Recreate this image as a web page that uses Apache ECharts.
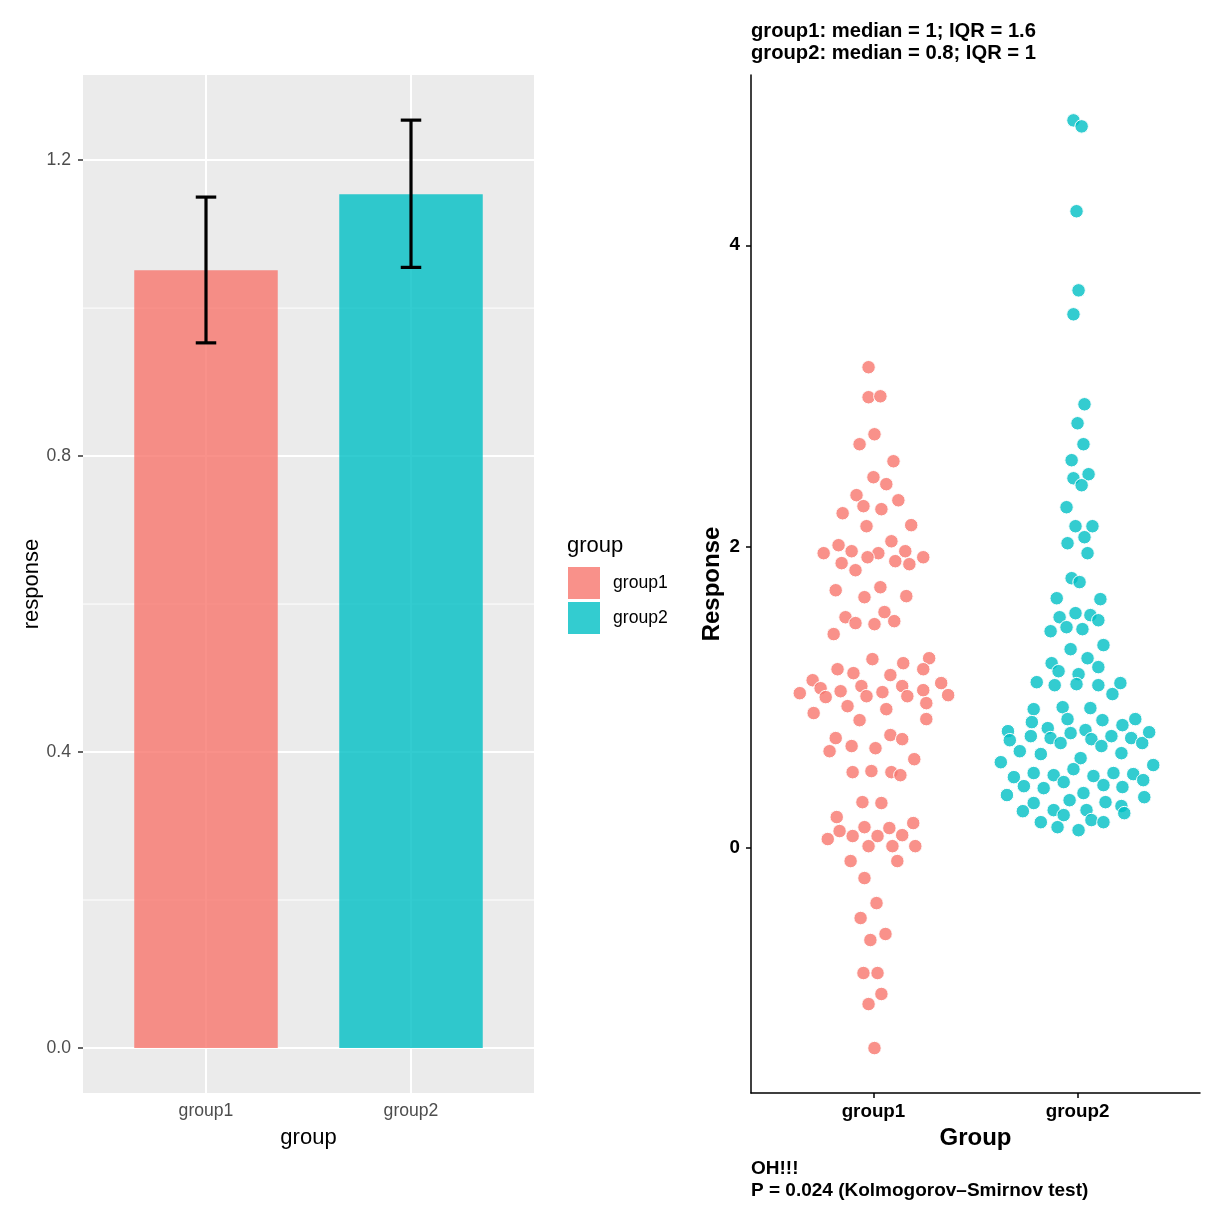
<!DOCTYPE html>
<html><head><meta charset="utf-8">
<script src="https://cdn.jsdelivr.net/npm/echarts@6/dist/echarts.min.js"></script>
<style>html,body{margin:0;padding:0;background:#fff}#c{width:1224px;height:1224px}</style>
</head><body><div id="c"></div>
<script>
// ---------- data ----------
const categories = ['group1', 'group2'];
const barMeans = [1.051, 1.154];
const errLower = [0.953, 1.055];
const errUpper = [1.150, 1.254];
const yTicksLeft = [0, 0.4, 0.8, 1.2];
const yMinorLeft = [0.2, 0.6, 1.0];
const yTicksRight = [0, 2, 4];
const titleLines = ['group1: median = 1; IQR = 1.6', 'group2: median = 0.8; IQR = 1'];
const captionLines = ['OH!!!', 'P = 0.024 (Kolmogorov\u2013Smirnov test)'];

const g1Response = [3.191,2.992,2.998,2.746,2.680,2.567,2.461,2.415,2.342,2.308,2.269,2.249,2.222,2.136,2.143,2.036,2.010,1.970,1.970,1.957,1.957,1.930,1.930,1.891,1.904,1.884,1.844,1.711,1.731,1.665,1.672,1.566,1.532,1.493,1.486,1.506,1.420,1.254,1.260,1.227,1.187,1.187,1.161,1.148,1.114,1.075,1.061,1.095,1.075,1.028,1.041,1.002,1.008,1.035,1.008,1.048,1.015,0.962,0.942,0.922,0.896,0.856,0.849,0.730,0.750,0.723,0.677,0.643,0.663,0.590,0.504,0.511,0.504,0.484,0.305,0.299,0.206,0.166,0.113,0.139,0.133,0.060,0.080,0.080,0.086,0.013,0.013,0.013,-0.086,-0.086,-0.199,-0.365,-0.464,-0.570,-0.610,-0.829,-0.829,-0.968,-1.035,-1.327];
const g1Offset = [-0.024,-0.024,0.034,0.005,-0.068,0.098,0,0.063,-0.083,0.122,-0.049,0.039,-0.151,-0.034,0.185,0.088,-0.171,-0.107,0.156,-0.244,0.024,-0.029,0.244,-0.156,0.107,0.176,-0.088,-0.185,0.034,-0.044,0.161,0.054,-0.137,-0.088,0.005,0.102,-0.195,-0.005,0.273,0.146,0.244,-0.176,-0.098,0.083,-0.298,-0.059,-0.259,0.332,0.141,-0.361,-0.161,-0.234,-0.034,0.044,0.166,0.244,0.366,0.259,-0.127,0.063,-0.293,0.259,-0.068,-0.185,0.083,0.141,-0.107,-0.215,0.010,0.200,-0.102,-0.010,0.088,0.132,-0.054,0.039,-0.180,0.195,-0.166,-0.044,0.078,-0.224,-0.102,0.020,0.141,-0.024,0.093,0.205,-0.112,0.117,-0.044,0.015,-0.063,0.059,-0.015,-0.049,0.020,0.039,-0.024,0.005];
const g2Response = [4.829,4.789,4.226,3.701,3.542,2.945,2.819,2.680,2.574,2.454,2.481,2.408,2.262,2.136,2.136,2.063,2.023,1.957,1.791,1.765,1.658,1.652,1.532,1.559,1.546,1.512,1.439,1.466,1.453,1.320,1.347,1.227,1.260,1.174,1.154,1.201,1.101,1.081,1.088,1.081,1.095,1.022,0.922,0.935,0.929,0.836,0.856,0.849,0.816,0.856,0.776,0.716,0.743,0.796,0.730,0.697,0.763,0.783,0.723,0.677,0.743,0.730,0.697,0.769,0.643,0.624,0.597,0.630,0.570,0.551,0.471,0.498,0.484,0.524,0.438,0.478,0.498,0.491,0.451,0.411,0.398,0.418,0.405,0.352,0.365,0.338,0.299,0.318,0.305,0.279,0.232,0.245,0.252,0.219,0.252,0.186,0.172,0.172,0.139,0.119];
const g2Offset = [-0.020,0.020,-0.005,0.005,-0.020,0.034,0,0.029,-0.029,-0.020,0.054,0.020,-0.054,-0.010,0.073,0.034,-0.049,0.049,-0.029,0.010,-0.102,0.112,-0.088,-0.010,0.063,0.102,-0.132,-0.054,0.024,-0.034,0.127,-0.127,0.049,-0.093,0.005,0.102,-0.200,-0.112,-0.005,0.102,0.210,0.171,-0.215,-0.073,0.063,-0.224,-0.049,0.122,0.220,0.283,-0.341,-0.332,-0.229,-0.146,-0.132,-0.083,-0.034,0.039,0.068,0.117,0.166,0.263,0.317,0.351,-0.283,-0.180,0.015,0.215,-0.376,0.371,-0.312,-0.215,-0.117,-0.020,-0.068,0.078,0.176,0.273,0.322,-0.263,-0.166,0.127,0.220,-0.346,0.029,0.327,-0.215,-0.039,0.137,0.215,0.229,-0.268,-0.117,-0.068,0.044,0.068,0.127,-0.180,-0.098,0.005];

// ---------- styling ----------
const FONT = '"Liberation Sans", Arial, Helvetica, sans-serif';
const COLORS_A = ['rgba(248,118,109,0.8)', 'rgba(0,191,196,0.8)'];
const BAR_WIDTH = 0.7, CAP_WIDTH = 0.1;
const X_MIN = 0.4, X_MAX = 2.6;
const catPos = categories.map((c, i) => i + 1);
const catFormatter = v => categories[Math.round(v) - 1] || '';

function barRender(params, api) {
  const x = api.value(0), y = api.value(1), lo = api.value(2), hi = api.value(3);
  const p0 = api.coord([x - BAR_WIDTH / 2, y]);
  const p1 = api.coord([x + BAR_WIDTH / 2, 0]);
  const top = api.coord([x, hi]), bot = api.coord([x, lo]);
  const cl = api.coord([x - CAP_WIDTH / 2, hi])[0], cr = api.coord([x + CAP_WIDTH / 2, hi])[0];
  const ls = { stroke: '#000', lineWidth: 3.2 };
  return { type: 'group', children: [
    { type: 'rect', shape: { x: p0[0], y: p0[1], width: p1[0] - p0[0], height: p1[1] - p0[1] },
      style: { fill: COLORS_A[params.seriesIndex - 1] } },
    { type: 'line', shape: { x1: top[0], y1: top[1], x2: bot[0], y2: bot[1] }, style: ls },
    { type: 'line', shape: { x1: cl, y1: top[1], x2: cr, y2: top[1] }, style: ls },
    { type: 'line', shape: { x1: cl, y1: bot[1], x2: cr, y2: bot[1] }, style: ls }
  ]};
}

// grid lines for left panel (kind 0 = major horizontal, 1 = minor horizontal, 2 = vertical)
const gridLineData = []
  .concat(yTicksLeft.map(v => [0, v]))
  .concat(yMinorLeft.map(v => [1, v]))
  .concat(catPos.map(v => [2, v]));
function gridRender(params, api) {
  const kind = api.value(0), v = api.value(1);
  let a, b;
  if (kind === 2) { a = api.coord([v, -0.0608]); b = api.coord([v, 1.315]); }
  else { a = api.coord([X_MIN, v]); b = api.coord([X_MAX, v]); }
  return { type: 'line', shape: { x1: a[0], y1: a[1], x2: b[0], y2: b[1] },
    style: { stroke: '#FFFFFF', lineWidth: kind === 1 ? 1 : 2 } };
}

const chart = echarts.init(document.getElementById('c'), null, { renderer: 'canvas' });
chart.setOption({
  animation: false,
  backgroundColor: '#FFFFFF',
  textStyle: { fontFamily: FONT },
  title: [
    { text: titleLines.join('\n'), left: 751, top: 20, padding: 0,
      textStyle: { fontFamily: FONT, fontSize: 20.2, fontWeight: 'bold', color: '#000', lineHeight: 22 } },
    { text: captionLines.join('\n'), left: 751, top: 1158, padding: 0,
      textStyle: { fontFamily: FONT, fontSize: 19, fontWeight: 'bold', color: '#000', lineHeight: 22 } },
    { text: 'group', left: 567, top: 535, padding: 0,
      textStyle: { fontFamily: FONT, fontSize: 22, fontWeight: 'normal', color: '#000', lineHeight: 22 } }
  ],
  legend: {
    orient: 'vertical', left: 568, top: 567, padding: 0,
    itemWidth: 32, itemHeight: 32, itemGap: 3, selectedMode: false,
    data: categories.map((c, i) => ({ name: c, icon: 'rect', itemStyle: { color: COLORS_A[i], borderWidth: 0 } })),
    textStyle: { fontFamily: FONT, fontSize: 17.6, color: '#000', padding: [0, 0, 0, 8] }
  },
  grid: [
    { left: 83, top: 75, width: 451, height: 1018, show: true, backgroundColor: '#EBEBEB', borderWidth: 0 },
    { left: 751, top: 75, width: 449, height: 1018, show: false }
  ],
  xAxis: [
    { gridIndex: 0, type: 'value', min: X_MIN, max: X_MAX,
      name: 'group', nameLocation: 'middle', nameGap: 34,
      nameTextStyle: { fontFamily: FONT, fontSize: 22, color: '#000' },
      axisLine: { show: false }, splitLine: { show: false },
      axisTick: { show: true, customValues: catPos, length: 5, lineStyle: { color: '#333333', width: 1.5 } },
      axisLabel: { customValues: catPos, formatter: catFormatter, margin: 9,
        fontFamily: FONT, fontSize: 17.6, color: '#4D4D4D' } },
    { gridIndex: 1, type: 'value', min: X_MIN, max: X_MAX,
      name: 'Group', nameLocation: 'middle', nameGap: 33,
      nameTextStyle: { fontFamily: FONT, fontSize: 24, fontWeight: 'bold', color: '#000' },
      axisLine: { show: true, onZero: false, lineStyle: { color: '#000', width: 1.5 } }, splitLine: { show: false },
      axisTick: { show: true, customValues: catPos, length: 5, lineStyle: { color: '#000', width: 1.5 } },
      axisLabel: { customValues: catPos, formatter: catFormatter, margin: 9,
        fontFamily: FONT, fontSize: 18.8, fontWeight: 'bold', color: '#000' } }
  ],
  yAxis: [
    { gridIndex: 0, type: 'value', min: -0.0608, max: 1.315,
      name: 'response', nameLocation: 'middle', nameGap: 40, nameRotate: 90,
      nameTextStyle: { fontFamily: FONT, fontSize: 22, color: '#000' },
      axisLine: { show: false }, splitLine: { show: false },
      axisTick: { show: true, customValues: yTicksLeft, length: 5, lineStyle: { color: '#333333', width: 1.5 } },
      axisLabel: { customValues: yTicksLeft, formatter: v => v.toFixed(1), margin: 12,
        fontFamily: FONT, fontSize: 17.6, color: '#4D4D4D' } },
    { gridIndex: 1, type: 'value', min: -1.625, max: 5.13,
      name: 'Response', nameLocation: 'middle', nameGap: 27, nameRotate: 90,
      nameTextStyle: { fontFamily: FONT, fontSize: 24, fontWeight: 'bold', color: '#000' },
      axisLine: { show: true, onZero: false, lineStyle: { color: '#000', width: 1.5 } }, splitLine: { show: false },
      axisTick: { show: true, customValues: yTicksRight, length: 5, lineStyle: { color: '#000', width: 1.5 } },
      axisLabel: { customValues: yTicksRight, formatter: v => String(v), margin: 11,
        fontFamily: FONT, fontSize: 18.8, fontWeight: 'bold', color: '#000' } }
  ],
  series: [
    { type: 'custom', name: 'gridlines', xAxisIndex: 0, yAxisIndex: 0, z: 1, silent: true,
      renderItem: gridRender, data: gridLineData, encode: { x: -1, y: -1 } },
  ].concat(categories.map((c, i) => ({
    type: 'custom', name: c, xAxisIndex: 0, yAxisIndex: 0, z: 2,
    itemStyle: { color: COLORS_A[i] },
    renderItem: barRender,
    data: [[catPos[i], barMeans[i], errLower[i], errUpper[i]]]
  }))).concat([
    { type: 'scatter', name: 'points1', xAxisIndex: 1, yAxisIndex: 1, z: 3,
      symbol: 'circle', symbolSize: 13.5,
      itemStyle: { color: COLORS_A[0], borderColor: '#FFFFFF', borderWidth: 1, opacity: 1 },
      data: g1Response.map((v, k) => [catPos[0] + g1Offset[k], v]) },
    { type: 'scatter', name: 'points2', xAxisIndex: 1, yAxisIndex: 1, z: 3,
      symbol: 'circle', symbolSize: 13.5,
      itemStyle: { color: COLORS_A[1], borderColor: '#FFFFFF', borderWidth: 1, opacity: 1 },
      data: g2Response.map((v, k) => [catPos[1] + g2Offset[k], v]) }
  ])
});
</script>
</body></html>
